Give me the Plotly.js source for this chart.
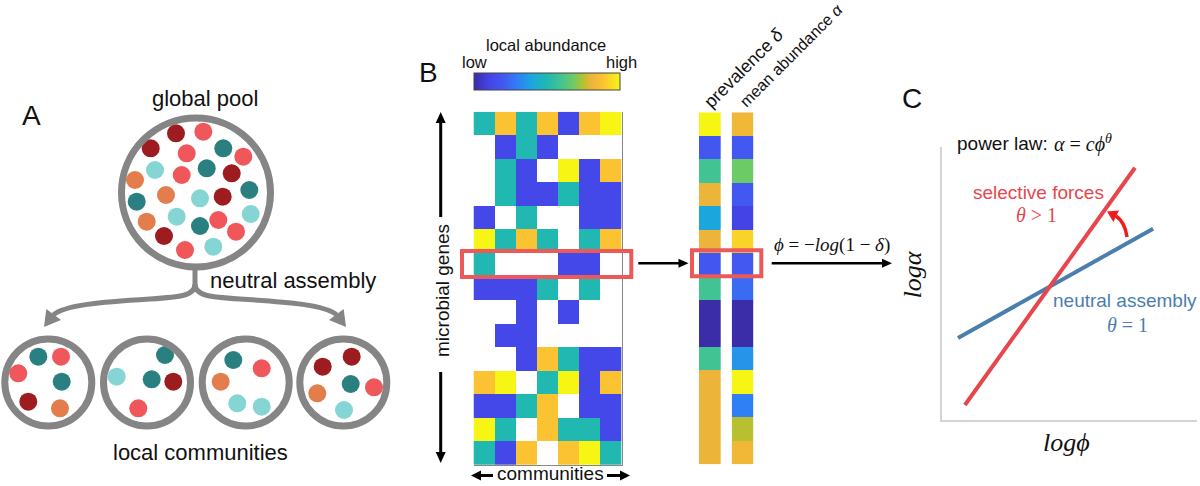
<!DOCTYPE html>
<html><head><meta charset="utf-8">
<script src="https://cdn.plot.ly/plotly-3.0.1.min.js"></script>
<style>html,body{margin:0;padding:0;background:#fff}#chart{width:1200px;height:486px}</style>
</head><body><div id="chart"></div>
<script>
// ================= DATA =================
// Panel B: local abundance heatmap (rows = microbial genes, cols = communities); null = absent
const communities = [1, 2, 3, 4, 5, 6, 7];
const genes = [1, 2, 3, 4, 5, 6, 7, 8, 9, 10, 11, 12, 13, 14, 15];
const abundance = [
  [0.50, 0.88, 0.50, 0.88, 0.12, 0.88, 1.00],
  [null, 0.12, 0.50, 0.12, null, null, null],
  [null, 0.50, 0.12, null, 1.00, 0.12, 0.88],
  [null, 0.50, 0.12, 0.12, 0.50, 0.12, 0.12],
  [0.12, null, 0.50, null, null, 0.12, 0.12],
  [1.00, 0.50, 0.88, 0.50, null, 0.50, 0.88],
  [0.50, null, null, null, 0.12, 0.12, null],
  [0.12, 0.12, 0.12, 0.50, null, 0.50, null],
  [null, null, 0.12, null, 0.12, null, null],
  [null, 0.12, 0.12, null, null, null, null],
  [null, null, 0.12, 0.88, 0.50, 0.12, 0.12],
  [0.88, 1.00, null, 0.50, 1.00, 0.12, 0.88],
  [0.12, 0.12, 0.50, 0.88, null, 0.12, 0.12],
  [1.00, 0.50, null, 0.88, 0.50, 0.50, 0.12],
  [0.50, 0.12, 0.88, null, 0.88, 1.00, 0.50]
];
// per-gene summaries
const prevalence = [1.00, 0.43, 0.71, 0.86, 0.57, 0.86, 0.43, 0.71, 0.29, 0.29, 0.71, 0.86, 0.86, 0.86, 0.86];
const meanAbundance = [0.82, 0.20, 0.68, 0.20, 0.10, 0.92, 0.20, 0.25, 0.00, 0.00, 0.35, 1.00, 0.30, 0.75, 0.82];
const summaryLabels = ['prevalence δ', 'mean abundance α'];

// Panel A: species in the global pool and in the four local communities (canvas px)
const poolX = [176, 203.3, 150.7, 186.7, 223.3, 243.3, 155, 181.7, 206.7, 231.7, 135, 166, 200, 222.7, 249.3, 136.7, 146.7, 176.7, 200, 218.3, 250.7, 164, 236, 185, 213.3];
const poolY = [133.3, 131.7, 148.3, 153.3, 148.3, 156.7, 170, 175, 168.3, 173.3, 180, 195, 198.3, 196.7, 190, 201.7, 221.7, 216.7, 226, 220, 214, 236, 231.7, 250, 246.7];
const poolKind = ['dr','r','dr','r','tl','r','cy','r','tl','dr','or','or','cy','dr','tl','tl','or','cy','tl','r','cy','dr','r','r','cy'];
const localX = [38.3, 61, 18.3, 61.7, 28.3, 60,   165, 116.7, 151.7, 173.3, 138.3,   233.3, 261.7, 220.7, 237.3, 261.7,   351.7, 322.7, 350.7, 374, 317.3, 344];
const localY = [356.7, 356.7, 373.3, 381.7, 401.7, 408.3,   355, 376.7, 379.3, 381.7, 408.3,   360, 368.3, 381.7, 403.3, 406.7,   356.7, 366.7, 384, 387.3, 393.3, 410];
const localKind = ['tl','r','r','tl','dr','or',   'tl','cy','tl','dr','r',   'tl','r','or','cy','cy',   'dr','dr','tl','r','or','cy'];

// Panel C: power-law lines in log-log space
const logPhiNeutral = [0.64, 8.29];
const logAlphaNeutral = [3.0, 7.0];
const logPhiSelective = [0.91, 7.58];
const logAlphaSelective = [0.55, 9.23];

// ================= STYLE / LAYOUT =================
const W = 1200, H = 486;
const px = v => v / W;
const py = v => 1 - v / H;
const dotColors = {dr:'#9c1c20', r:'#f0575a', tl:'#2a7f80', cy:'#85d5d5', or:'#e47d4c'};
const parula = [
  [0.00,'#3b2ca8'],[0.10,'#4444e6'],[0.20,'#4358f0'],[0.30,'#2f80f5'],
  [0.40,'#1aa8dd'],[0.50,'#20b8b0'],[0.60,'#45c490'],[0.68,'#6ccb64'],
  [0.75,'#b8c030'],[0.80,'#edb43a'],[0.88,'#fbc232'],[1.00,'#f6f514']
];
const SANS = 'Liberation Sans, Arial, sans-serif';
const SERIF = 'Liberation Serif, DejaVu Serif, serif';
const gray = '#858585';
const red = '#e8464c', blue = '#4a7eae', hl = '#ea5a5a';

const traces = [
  {type:'scatter', mode:'markers', x:poolX, y:poolY, xaxis:'x', yaxis:'y',
   marker:{size:18, color:poolKind.map(k=>dotColors[k]), line:{width:0}}, hoverinfo:'skip', cliponaxis:false},
  {type:'scatter', mode:'markers', x:localX, y:localY, xaxis:'x', yaxis:'y',
   marker:{size:18, color:localKind.map(k=>dotColors[k]), line:{width:0}}, hoverinfo:'skip', cliponaxis:false},
  {type:'heatmap', x:communities, y:genes, z:abundance, xaxis:'x2', yaxis:'y2',
   colorscale:parula, zmin:0, zmax:1, hoverongaps:false, hoverinfo:'skip',
   showscale:true,
   colorbar:{orientation:'h', lenmode:'pixels', len:146.4, thicknessmode:'pixels', thickness:16.7,
     x:px(547.5), xanchor:'center', y:py(81.7), yanchor:'middle', xpad:0, ypad:0,
     outlinewidth:1, outlinecolor:'#444', ticks:'', showticklabels:false}},
  {type:'heatmap', x:[summaryLabels[0]], y:genes, z:prevalence.map(v=>[v]), xaxis:'x3', yaxis:'y3',
   colorscale:parula, zmin:0.29, zmax:1.0, showscale:false, hoverinfo:'skip'},
  {type:'heatmap', x:[summaryLabels[1]], y:genes, z:meanAbundance.map(v=>[v]), xaxis:'x4', yaxis:'y3',
   colorscale:parula, zmin:0, zmax:1, showscale:false, hoverinfo:'skip'},
  {type:'scatter', mode:'lines', x:logPhiNeutral, y:logAlphaNeutral, xaxis:'x5', yaxis:'y5',
   line:{color:blue, width:4}, hoverinfo:'skip'},
  {type:'scatter', mode:'lines', x:logPhiSelective, y:logAlphaSelective, xaxis:'x5', yaxis:'y5',
   line:{color:red, width:4}, hoverinfo:'skip'}
];

const hidden = {visible:false, fixedrange:true};
const ring = (cx, cy, r) => ({type:'circle', xref:'x', yref:'y', x0:cx-r, x1:cx+r, y0:cy-r, y1:cy+r,
  line:{color:gray, width:7}, fillcolor:'rgba(0,0,0,0)'});
// straight arrow (tail -> tip) as a line plus a filled head
function arrowShapes(x1, y1, x2, y2, color, width, hl, hw) {
  const L = Math.hypot(x2 - x1, y2 - y1), dx = (x2 - x1) / L, dy = (y2 - y1) / L;
  const bx = x2 - hl * dx, by = y2 - hl * dy;
  return [
    {type:'line', xref:'x', yref:'y', x0:x1, y0:y1, x1:bx + dx, y1:by + dy, line:{color, width}},
    {type:'path', xref:'x', yref:'y',
     path:`M${x2},${y2} L${bx - hw * dy},${by + hw * dx} L${bx + hw * dy},${by - hw * dx} Z`,
     fillcolor:color, line:{width:0}}
  ];
}

const shapes = [
  ring(196, 192.5, 74.5),
  ring(48.3, 382.5, 43.5), ring(147, 382.5, 43.5), ring(245.7, 382.5, 43.5), ring(343.3, 382.5, 43.5),
  // branching arrow of neutral assembly
  {type:'path', xref:'x', yref:'y', path:'M195,266 L195,284 C195,296 180,297 150,299 C100,302 65,305 53.4,314.8', line:{color:gray, width:5}},
  {type:'path', xref:'x', yref:'y', path:'M195,284 C195,296 210,297 240,299 C290,302 325,305 336.6,314.8', line:{color:gray, width:5}},
  {type:'path', xref:'x', yref:'y', path:'M44,327 L61,320 L46.3,309 Z', fillcolor:gray, line:{width:0}},
  {type:'path', xref:'x', yref:'y', path:'M346,327 L329,320 L343.7,309 Z', fillcolor:gray, line:{width:0}},
  // highlighted gene
  {type:'rect', xref:'x', yref:'y', x0:462, x1:631.3, y0:251, y1:277, line:{color:hl, width:4}},
  {type:'rect', xref:'x', yref:'y', x0:692, x1:761.3, y0:250.3, y1:276.3, line:{color:hl, width:4}},
  // black arrows
  ...arrowShapes(440.7, 217, 440.7, 112, '#000', 3, 11, 5),
  ...arrowShapes(440.7, 372, 440.7, 463, '#000', 3, 11, 5),
  ...arrowShapes(493, 475.5, 471, 475.5, '#000', 3, 10, 5),
  ...arrowShapes(607, 475.5, 630, 475.5, '#000', 3, 10, 5),
  ...arrowShapes(638.3, 263.3, 688.5, 263.3, '#000', 2.5, 10, 4.5),
  ...arrowShapes(771.7, 263.3, 892, 263.3, '#000', 2.5, 10, 4.5),
  // curved red arrow in panel C
  {type:'path', xref:'x', yref:'y', path:'M1127,237 Q1125,222 1116,216', line:{color:'#ee1c1c', width:3.5}},
  {type:'path', xref:'x', yref:'y', path:'M1107,211.5 L1119,210.5 L1113.4,222 Z', fillcolor:'#ee1c1c', line:{width:0}}
];

const txt = (text, x, y, size, extra) => Object.assign({text, x, y, xref:'x', yref:'y', showarrow:false,
  xanchor:'center', yanchor:'middle', font:{family:SANS, size, color:'#111'}}, extra || {});

const annotations = [
  // panel A
  txt('A', 31.7, 115, 28),
  txt('global pool', 205, 98, 22),
  txt('neutral assembly', 293, 280, 22),
  txt('local communities', 200, 452, 22),
  // panel B
  txt('B', 428, 72, 28),
  txt('local abundance', 546, 45, 16.5),
  txt('low', 474, 62, 16.5),
  txt('high', 621, 62, 16.5),
  txt('microbial genes', 442.5, 290.5, 19, {textangle:-90}),
  txt('communities', 550, 473, 19),
  txt('prevalence <i>δ</i>', 744, 68, 18, {textangle:-45}),
  txt('mean abundance <i>α</i>', 791, 55, 16, {textangle:-45}),
  txt('<i>ϕ</i> = −<i>log</i>(1 − <i>δ</i>)', 831.7, 245, 19, {font:{family:SERIF, size:19, color:'#111'}}),
  // panel C
  txt('C', 911.7, 98, 28),
  txt('power law:', 955, 143.3, 19, {xanchor:'left'}),
  txt('<i>α</i> = <i>cϕ</i><sup><i>θ</i></sup>', 1052, 143.3, 20, {xanchor:'left', font:{family:SERIF, size:20, color:'#111'}}),
  txt('selective forces', 1038, 192, 19, {font:{family:SANS, size:19, color:red}}),
  txt('<i>θ</i> > 1', 1036, 215, 20, {font:{family:SERIF, size:20, color:red}}),
  txt('neutral assembly', 1125, 300, 19, {font:{family:SANS, size:19, color:blue}}),
  txt('<i>θ</i> = 1', 1127, 325, 20, {font:{family:SERIF, size:20, color:blue}}),
  txt('<i>logα</i>', 911.5, 275, 26, {textangle:-90, font:{family:SERIF, size:26, color:'#111'}}),
  txt('<i>logϕ</i>', 1066, 442, 26, {font:{family:SERIF, size:26, color:'#111'}})
];

const layout = {
  width:W, height:H, margin:{l:0, r:0, t:0, b:0, autoexpand:false},
  paper_bgcolor:'#fff', plot_bgcolor:'rgba(0,0,0,0)', showlegend:false,
  xaxis:Object.assign({domain:[0,1], range:[0,W]}, hidden),
  yaxis:Object.assign({domain:[0,1], range:[H,0]}, hidden),
  xaxis2:{domain:[px(473.5), px(621.7)], anchor:'y2', range:[0.5,7.5], showline:true, linecolor:'#888', linewidth:1,
    showticklabels:false, ticks:'', showgrid:false, zeroline:false, fixedrange:true},
  yaxis2:{domain:[py(465), py(111.7)], anchor:'x2', range:[15.5,0.5], side:'right', showline:true, linecolor:'#888', linewidth:1,
    showticklabels:false, ticks:'', showgrid:false, zeroline:false, fixedrange:true},
  xaxis3:{domain:[px(699), px(720.7)], anchor:'y3', showticklabels:false, ticks:'', showgrid:false, zeroline:false, fixedrange:true},
  xaxis4:{domain:[px(731.7), px(753.3)], anchor:'y3', showticklabels:false, ticks:'', showgrid:false, zeroline:false, fixedrange:true},
  yaxis3:{domain:[py(464.3), py(112.3)], anchor:'x3', range:[15.5,0.5], showticklabels:false, ticks:'', showgrid:false, zeroline:false, fixedrange:true},
  xaxis5:{domain:[px(941.7), px(1196.7)], anchor:'y5', range:[0,10], showline:true, linecolor:'#d4d4d4', linewidth:2,
    showticklabels:false, ticks:'', showgrid:false, zeroline:false, fixedrange:true},
  yaxis5:{domain:[py(420), py(146.7)], anchor:'x5', range:[0,10], showline:true, linecolor:'#d4d4d4', linewidth:2,
    showticklabels:false, ticks:'', showgrid:false, zeroline:false, fixedrange:true},
  shapes, annotations
};

Plotly.newPlot('chart', traces, layout, {staticPlot:true, displayModeBar:false});
</script></body></html>
